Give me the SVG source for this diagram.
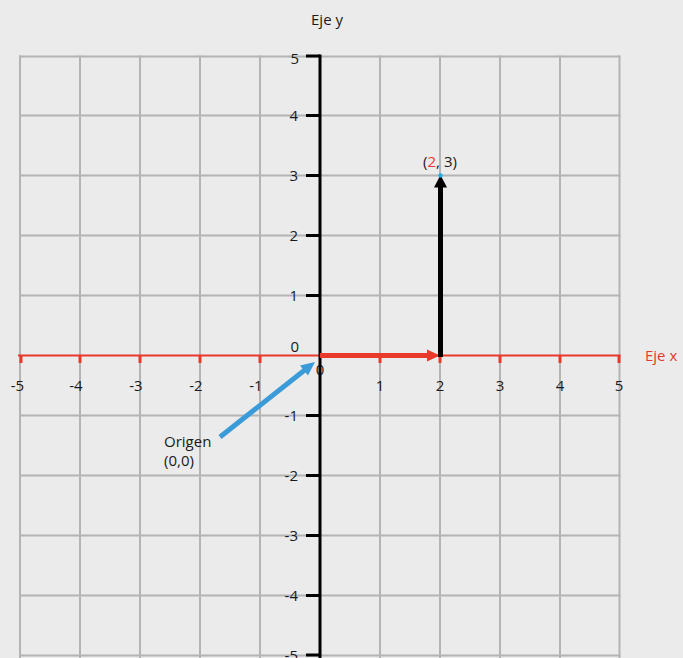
<svg xmlns="http://www.w3.org/2000/svg" width="683" height="658" viewBox="0 0 683 658">
<style>
.grid line{stroke:#b4b4b4;stroke-width:2}
.t{font-family:"Open Sans","Noto Sans",sans-serif;font-size:15px;fill:#1a1a1a}
.ylab{text-anchor:end}
.xlab{text-anchor:middle}
.red{fill:#e8392b}
.ytick{stroke:#000;stroke-width:3}
.xtick{stroke:#e8392b;stroke-width:3}
</style>
<rect width="683" height="658" fill="#ebebeb"/>
<g id="grid" class="grid">
<line x1="20" y1="55.5" x2="20" y2="658"/>
<line x1="80" y1="55.5" x2="80" y2="658"/>
<line x1="140" y1="55.5" x2="140" y2="658"/>
<line x1="200" y1="55.5" x2="200" y2="658"/>
<line x1="260" y1="55.5" x2="260" y2="658"/>
<line x1="380" y1="55.5" x2="380" y2="658"/>
<line x1="440" y1="55.5" x2="440" y2="658"/>
<line x1="500" y1="55.5" x2="500" y2="658"/>
<line x1="560" y1="55.5" x2="560" y2="658"/>
<line x1="619.5" y1="55.5" x2="619.5" y2="658"/>
<line x1="19" y1="56.5" x2="620.5" y2="56.5"/>
<line x1="19" y1="115.5" x2="620.5" y2="115.5"/>
<line x1="19" y1="175.5" x2="620.5" y2="175.5"/>
<line x1="19" y1="235.5" x2="620.5" y2="235.5"/>
<line x1="19" y1="295.5" x2="620.5" y2="295.5"/>
<line x1="19" y1="415.5" x2="620.5" y2="415.5"/>
<line x1="19" y1="475.5" x2="620.5" y2="475.5"/>
<line x1="19" y1="535.5" x2="620.5" y2="535.5"/>
<line x1="19" y1="595.5" x2="620.5" y2="595.5"/>
<line x1="19" y1="655.5" x2="620.5" y2="655.5"/>
</g>
<g id="x-axis">
<line x1="18" y1="355.5" x2="620.5" y2="355.5" stroke="#e8392b" stroke-width="2"/>
<g class="xtick">
<line x1="21" y1="355" x2="21" y2="363"/>
<line x1="80" y1="355" x2="80" y2="363"/>
<line x1="140" y1="355" x2="140" y2="363"/>
<line x1="200" y1="355" x2="200" y2="363"/>
<line x1="260" y1="355" x2="260" y2="363"/>
<line x1="380" y1="355" x2="380" y2="363"/>
<line x1="440" y1="355" x2="440" y2="363"/>
<line x1="500" y1="355" x2="500" y2="363"/>
<line x1="560" y1="355" x2="560" y2="363"/>
<line x1="619" y1="355" x2="619" y2="363"/>
</g>
<g class="t xlab">
<text x="17.5" y="391">-5</text>
<text x="76" y="391">-4</text>
<text x="136" y="391">-3</text>
<text x="196" y="391">-2</text>
<text x="256" y="391">-1</text>
<text x="320" y="375">0</text>
<text x="380" y="391">1</text>
<text x="440" y="391">2</text>
<text x="500" y="391">3</text>
<text x="560" y="391">4</text>
<text x="619" y="391">5</text>
</g>
<text class="t red" x="645" y="361">Eje x</text>
</g>
<g id="y-axis">
<line x1="320" y1="54.5" x2="320" y2="658" stroke="#000" stroke-width="3"/>
<g class="ytick">
<line x1="306" y1="56" x2="320" y2="56"/>
<line x1="306" y1="115.5" x2="320" y2="115.5"/>
<line x1="306" y1="175.5" x2="320" y2="175.5"/>
<line x1="306" y1="235.5" x2="320" y2="235.5"/>
<line x1="306" y1="295.5" x2="320" y2="295.5"/>
<line x1="306" y1="415.5" x2="320" y2="415.5"/>
<line x1="306" y1="475.5" x2="320" y2="475.5"/>
<line x1="306" y1="535.5" x2="320" y2="535.5"/>
<line x1="306" y1="595.5" x2="320" y2="595.5"/>
<line x1="306" y1="655" x2="320" y2="655"/>
</g>
<g class="t ylab">
<text x="299" y="64">5</text>
<text x="298" y="121">4</text>
<text x="298" y="181">3</text>
<text x="298" y="241">2</text>
<text x="298" y="301">1</text>
<text x="299" y="352">0</text>
<text x="298" y="421">-1</text>
<text x="298" y="481">-2</text>
<text x="298" y="541">-3</text>
<text x="298" y="601">-4</text>
<text x="298" y="661">-5</text>
</g>
<text class="t xlab" x="327" y="25">Eje y</text>
</g>
<g id="connectors">
<line x1="320" y1="355.5" x2="429" y2="355.5" stroke="#e8392b" stroke-width="5"/>
<polygon points="427,349.5 440,355.5 427,361.5" fill="#e8392b"/>
<line x1="440.5" y1="357" x2="440.5" y2="186" stroke="#000" stroke-width="5"/>
<polygon points="434,187.5 440.5,175 447,187.5" fill="#000"/>
<line x1="220" y1="437" x2="306" y2="369" stroke="#3b9bd8" stroke-width="5"/>
<polygon points="300,365.5 315,362 308,375.5" fill="#3b9bd8"/>
</g>
<g id="point">
<circle cx="440.5" cy="175.5" r="2.2" fill="#29abe2"/>
<text class="t xlab" x="440" y="167">(<tspan class="red">2</tspan>, 3)</text>
</g>
<g id="origin-label" class="t">
<text x="164" y="447">Origen</text>
<text x="164" y="466">(0,0)</text>
</g>
</svg>
